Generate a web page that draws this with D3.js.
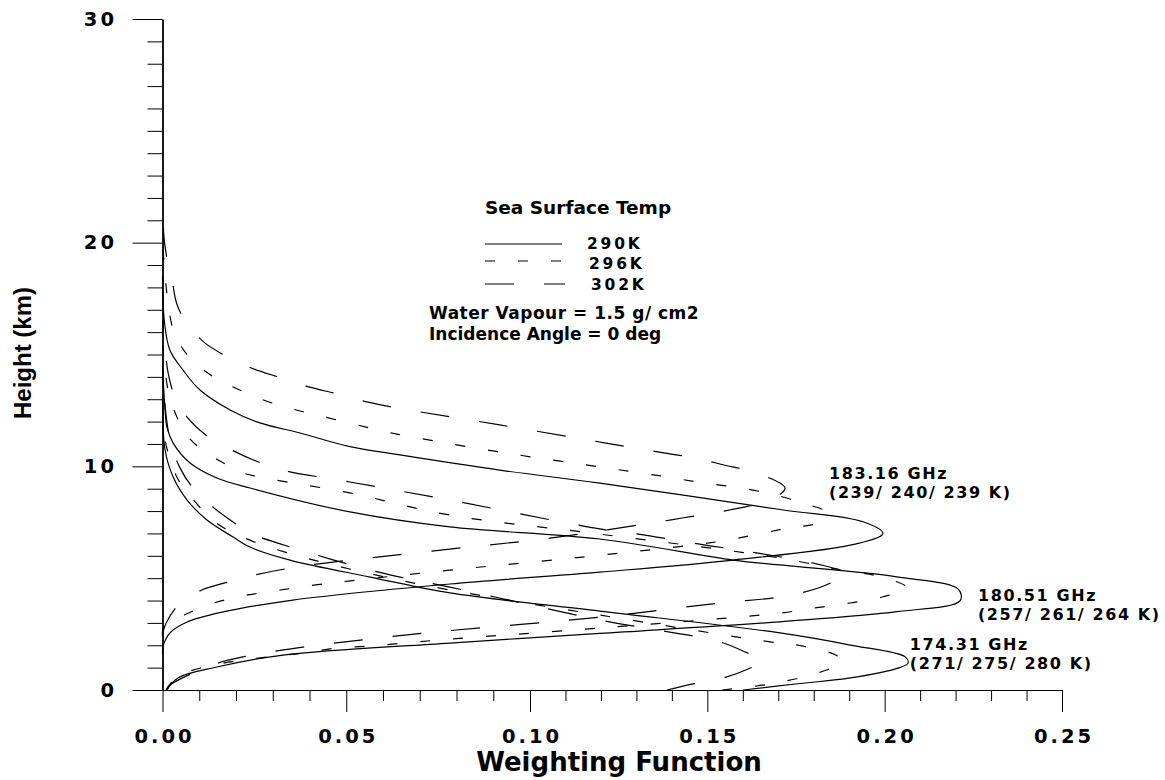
<!DOCTYPE html>
<html>
<head>
<meta charset="utf-8">
<title>Weighting Function</title>
<style>
  body { margin: 0; background: #fff; }
  text { font-family: "DejaVu Sans", sans-serif; font-weight: bold; fill: #000; }
</style>
</head>
<body>
<div id="chart"></div>
<script src="https://cdn.jsdelivr.net/npm/d3@7"></script>
<script>
// weighting function profiles, [weight, height km]
const wf183_290 = [[0,1.6],[0.0001,1.92],[0.0007,2.2],[0.002,2.55],[0.0067,3.04],[0.0165,3.49],[0.0355,4.02],[0.0782,4.74],[0.1197,5.27],[0.1572,5.81],[0.192,6.53],[0.1995,7.0],[0.1939,7.52],[0.1705,8.07],[0.1197,9.25],[0.0918,9.83],[0.0646,10.51],[0.051,10.88],[0.0374,11.49],[0.0265,11.94],[0.0184,12.52],[0.0102,13.41],[0.0056,14.3],[0.002,15.2],[0.0005,16.5],[0,18.5]];
const wf183_296 = [[0,2.4],[0.0004,2.82],[0.0059,3.35],[0.014,3.89],[0.0233,4.25],[0.0322,4.47],[0.0412,4.69],[0.0505,4.87],[0.0782,5.36],[0.1254,6.12],[0.1542,6.66],[0.1643,6.97],[0.1733,7.26],[0.181,7.47],[0.1833,7.96],[0.1787,8.27],[0.1762,8.4],[0.1682,8.76],[0.1589,9.05],[0.149,9.25],[0.1397,9.5],[0.1305,9.72],[0.1197,9.97],[0.0918,10.64],[0.0638,11.44],[0.0565,11.71],[0.0475,12.07],[0.0385,12.43],[0.0298,12.83],[0.0216,13.37],[0.014,13.99],[0.0075,14.84],[0.0034,15.87],[0.0018,16.94],[0.001,18.02],[0,20]];
const wf183_302 = [[0,2.5],[0.001,3.0],[0.0048,3.89],[0.0107,4.47],[0.0189,4.87],[0.0265,5.19],[0.0347,5.45],[0.042,5.63],[0.0782,6.3],[0.1056,6.79],[0.1344,7.47],[0.1429,7.69],[0.1514,7.91],[0.1592,8.14],[0.1677,8.49],[0.1719,9.03],[0.1629,9.75],[0.1547,10.06],[0.1466,10.37],[0.1381,10.59],[0.1296,10.82],[0.1214,11.04],[0.0918,11.85],[0.0638,12.61],[0.0559,12.87],[0.0478,13.23],[0.0401,13.54],[0.0325,13.95],[0.0249,14.35],[0.0178,14.89],[0.0116,15.51],[0.0067,16.36],[0.0039,17.26],[0.0026,18.33],[0.0012,19.31],[0.0004,20.25],[0,22]];

const wf180_290 = [[0.0012,0],[0.0042,0.54],[0.0148,1.03],[0.0328,1.56],[0.0782,2.1],[0.1197,2.53],[0.1705,3.05],[0.2034,3.5],[0.2213,4.0],[0.2208,4.5],[0.2034,5.06],[0.1705,5.59],[0.1572,5.81],[0.1197,6.75],[0.0782,7.29],[0.051,7.96],[0.0238,9.03],[0.0148,9.48],[0.0075,10.15],[0.0029,11.04],[0.0012,11.76],[0.0007,12.52],[0,14.5]];
const wf180_296 = [[0.001,0],[0.004,0.6],[0.015,1.15],[0.0287,1.48],[0.0382,1.65],[0.0475,1.88],[0.0567,1.97],[0.066,2.1],[0.0755,2.24],[0.1197,2.77],[0.1705,3.44],[0.1804,3.67],[0.1903,3.89],[0.1993,4.16],[0.2064,4.56],[0.1979,5.1],[0.1889,5.32],[0.1705,5.9],[0.1197,6.97],[0.0782,7.82],[0.051,8.81],[0.0219,9.7],[0.0192,9.92],[0.0121,10.59],[0.007,11.31],[0.0037,12.29],[0.0015,13.41],[0,15.5]];
const wf180_302 = [[0.001,0],[0.002,0.22],[0.0143,1.16],[0.0219,1.48],[0.0382,1.92],[0.0546,2.24],[0.0714,2.55],[0.1197,3.26],[0.1536,3.89],[0.1705,4.16],[0.1813,4.56],[0.188,5.05],[0.1897,5.2],[0.181,5.63],[0.1643,6.12],[0.1474,6.53],[0.1305,6.97],[0.1197,7.2],[0.0782,8.49],[0.051,9.3],[0.0328,9.83],[0.0254,10.24],[0.0178,10.82],[0.0118,11.4],[0.0067,12.2],[0.0034,13.1],[0.0015,14.2],[0,16.5]];

const wf174_290 = [[0.1601,0],[0.1762,0.29],[0.1903,0.54],[0.2038,0.98],[0.2066,1.2],[0.2058,1.48],[0.1903,2.01],[0.1705,2.55],[0.1197,3.53],[0.0782,4.34],[0.0565,5.05],[0.0347,5.81],[0.0238,6.39],[0.0192,6.84],[0.0121,7.6],[0.0067,8.49],[0.0029,9.52],[0.0007,10.73],[0,13]];
const wf174_296 = [[0.1542,0],[0.1677,0.27],[0.1813,0.77],[0.188,1.25],[0.1862,1.56],[0.1767,1.97],[0.1677,2.15],[0.1197,3.35],[0.0782,4.47],[0.0565,5.2],[0.0347,6.1],[0.0238,6.7],[0.0143,7.51],[0.0053,9.16],[0.0039,9.52],[0.0007,11.18],[0,13.5]];
const wf174_302 = [[0.1386,0],[0.146,0.27],[0.1545,0.54],[0.1615,0.94],[0.1657,1.3],[0.1607,1.7],[0.1536,2.15],[0.1197,3.13],[0.0782,4.6],[0.0646,5.05],[0.0565,5.36],[0.0374,6.26],[0.0238,7.02],[0.0192,7.51],[0.0137,8.18],[0.0083,9.03],[0.0048,9.92],[0.002,11.18],[0,14]];

const temps = ["290K", "296K", "302K"];
const channels = ["183.16 GHz", "180.51 GHz", "174.31 GHz"];
const tbLabels = ["(239/ 240/ 239 K)", "(257/ 261/ 264 K)", "(271/ 275/ 280 K)"];
const xTicks = [0, 0.05, 0.10, 0.15, 0.20, 0.25];
const yTicks = [0, 10, 20, 30];

const profiles = [
  [wf183_290, wf183_296, wf183_302],
  [wf180_290, wf180_296, wf180_302],
  [wf174_290, wf174_296, wf174_302]
];
const dashes = [null, "10,23", "29,30"];

const width = 1165, height = 780;
const svg = d3.select("#chart").append("svg")
    .attr("width", width)
    .attr("height", height);

const x = d3.scaleLinear().domain([0, 0.10, 0.25]).range([162.5, 530, 1062]);
const y = d3.scaleLinear().domain([0, 30]).range([690, 19]);

// axes
const xMinor = d3.range(0, 26).map(i => i / 100).filter((d, i) => i % 5 !== 0);
const yMinor = d3.range(0, 31).filter(d => d % 10 !== 0);

svg.append("g")
    .attr("transform", `translate(0,${y(0)})`)
    .call(d3.axisBottom(x).tickValues(xMinor).tickSize(11).tickFormat(""))
    .call(g => g.select(".domain").remove());

svg.append("g")
    .attr("transform", `translate(${x(0)},0)`)
    .call(d3.axisLeft(y).tickValues(yMinor).tickSize(15).tickFormat(""))
    .call(g => g.select(".domain").remove());

const gx = svg.append("g")
    .attr("transform", `translate(0,${y(0)})`)
    .call(d3.axisBottom(x).tickValues(xTicks).tickSize(22).tickSizeOuter(0)
        .tickPadding(17).tickFormat(d3.format(".2f")));
gx.select(".domain").attr("stroke-width", 1.2);
gx.selectAll("text")
    .attr("font-size", 19.5)
    .attr("letter-spacing", 3)
    .attr("dx", 1.5)
    .style("font-family", '"DejaVu Sans", sans-serif');

const gy = svg.append("g")
    .attr("transform", `translate(${x(0)},0)`)
    .call(d3.axisLeft(y).tickValues(yTicks).tickSize(30).tickSizeOuter(0).tickPadding(15.5));
gy.select(".domain").attr("stroke-width", 1.8);
gy.selectAll("text")
    .attr("font-size", 19.5)
    .attr("letter-spacing", 3)
    .style("font-family", '"DejaVu Sans", sans-serif');

svg.selectAll(".tick line").attr("stroke", "#000");

// axis titles
svg.append("text")
    .attr("x", 619)
    .attr("y", 771)
    .attr("text-anchor", "middle")
    .attr("font-size", 26)
    .text("Weighting Function");

svg.append("text")
    .attr("transform", "translate(30.5,353) rotate(-90)")
    .attr("text-anchor", "middle")
    .attr("font-size", 24)
    .style("font-family", '"Liberation Sans", Arial, sans-serif')
    .text("Height (km)");

// profiles
const line = d3.line()
    .x(d => x(d[0]))
    .y(d => y(d[1]))
    .curve(d3.curveCatmullRom.alpha(0.5));

profiles.forEach(group => {
  group.forEach((data, i) => {
    svg.append("path")
        .datum(data)
        .attr("fill", "none")
        .attr("stroke", "#000")
        .attr("stroke-width", 1.2)
        .attr("stroke-dasharray", dashes[i])
        .attr("d", line);
  });
});

// channel labels
const labelPos = [[0.1843, 9.43], [0.2263, 3.99], [0.2071, 1.79]];
channels.forEach((c, i) => {
  const t = svg.append("text")
      .attr("x", x(labelPos[i][0]))
      .attr("y", y(labelPos[i][1]))
      .attr("font-size", 16)
      .attr("letter-spacing", 1.6);
  t.append("tspan").text(c);
  t.append("tspan").attr("x", x(labelPos[i][0])).attr("dy", 19).text(tbLabels[i]);
});

// legend
const legend = svg.append("g");
legend.append("text")
    .attr("x", 485).attr("y", 214)
    .attr("font-size", 18.5)
    .text("Sea Surface Temp");

const legendY = [244, 261, 284];
const legendTextY = [249, 268.5, 290];
const legendTextX = [587, 589, 591];
temps.forEach((t, i) => {
  legend.append("line")
      .attr("x1", 485).attr("x2", i === 2 ? 565 : 562)
      .attr("y1", legendY[i]).attr("y2", legendY[i])
      .attr("stroke", "#000")
      .attr("stroke-width", 1.2)
      .attr("stroke-dasharray", dashes[i]);
  legend.append("text")
      .attr("x", legendTextX[i]).attr("y", legendTextY[i])
      .attr("font-size", 15.5)
      .attr("letter-spacing", 2.8)
      .text(t);
});

legend.append("text")
    .attr("x", 429).attr("y", 319)
    .attr("font-size", 17)
    .attr("letter-spacing", 0.5)
    .text("Water Vapour = 1.5 g/ cm2");
legend.append("text")
    .attr("x", 429).attr("y", 340)
    .attr("font-size", 17)
    .attr("letter-spacing", 0)
    .text("Incidence Angle = 0 deg");
</script>
</body>
</html>
